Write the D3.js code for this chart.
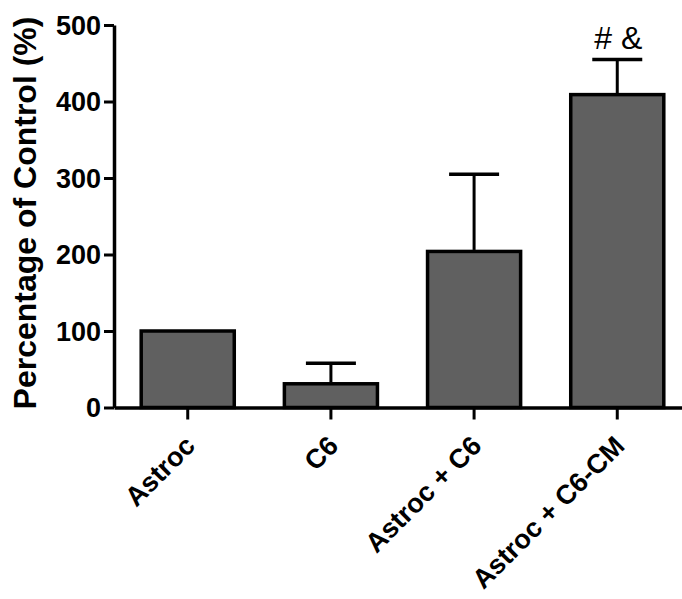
<!DOCTYPE html>
<html lang="en">
<head>
<meta charset="UTF-8" />
<title>Percentage of Control</title>
<script src="https://cdn.jsdelivr.net/npm/d3@7"></script>
<style>
  body { margin: 0; background: #fff; }
  text { font-family: Arial, "Liberation Sans", sans-serif; }
</style>
</head>
<body>
<div id="chart"></div>
<script>
// data
const groups = ["Astroc", "C6", "Astroc + C6", "Astroc + C6-CM"];
const means = [100, 31, 204, 409];
const errors = [0, 27, 101, 46];
const marks = ["", "", "", "# &"];
const yTicks = [0, 100, 200, 300, 400, 500];

const width = 682, height = 599;

const svg = d3.select("#chart")
  .append("svg")
  .attr("width", width)
  .attr("height", height);

const x = d3.scaleBand()
  .domain(groups)
  .range([114, 691])
  .paddingInner(0.35)
  .paddingOuter(0.19);

const y = d3.scaleLinear()
  .domain([0, 500])
  .range([407.5, 25]);

// bars
svg.selectAll("rect.bar")
  .data(groups)
  .enter().append("rect")
  .attr("class", "bar")
  .attr("x", d => x(d))
  .attr("y", (d, i) => y(means[i]))
  .attr("width", x.bandwidth())
  .attr("height", (d, i) => y(0) - y(means[i]))
  .attr("fill", "#606060")
  .attr("stroke", "#000")
  .attr("stroke-width", 3.5);

// error bars (upper only)
const capW = 50;
groups.forEach((g, i) => {
  if (!errors[i]) return;
  const cx = x(g) + x.bandwidth() / 2;
  svg.append("line")
    .attr("x1", cx).attr("x2", cx)
    .attr("y1", y(means[i]) - 1.5)
    .attr("y2", y(means[i] + errors[i]))
    .attr("stroke", "#000").attr("stroke-width", 3);
  svg.append("line")
    .attr("x1", cx - capW / 2).attr("x2", cx + capW / 2)
    .attr("y1", y(means[i] + errors[i]))
    .attr("y2", y(means[i] + errors[i]))
    .attr("stroke", "#000").attr("stroke-width", 3.5);
  if (marks[i]) {
    svg.append("text")
      .attr("x", cx + 1)
      .attr("y", y(means[i] + errors[i]) - 10)
      .attr("text-anchor", "middle")
      .attr("font-size", 32)
      .text(marks[i]);
  }
});

// y axis
const yAxis = svg.append("g")
  .attr("transform", "translate(114,0)")
  .call(d3.axisLeft(y).tickValues(yTicks).tickSize(10).tickSizeOuter(0).tickPadding(3));
yAxis.select(".domain").attr("stroke-width", 3.5);
yAxis.selectAll(".tick line").attr("stroke-width", 3);
yAxis.selectAll(".tick text")
  .attr("font-size", 27)
  .attr("font-weight", "bold")
  .attr("fill", "#000")
  .attr("dy", "0.35em");

// x axis
const xAxis = svg.append("g")
  .attr("transform", "translate(0,407.5)")
  .call(d3.axisBottom(x).tickSize(12).tickSizeOuter(0));
xAxis.select(".domain").attr("stroke-width", 3.5);
xAxis.selectAll(".tick line").attr("stroke-width", 3);
xAxis.selectAll(".tick text")
  .attr("font-size", 27)
  .attr("font-weight", "bold")
  .attr("fill", "#000")
  .attr("text-anchor", "end")
  .attr("x", 0)
  .attr("y", 0)
  .attr("dy", 0)
  .attr("transform", "translate(9,40) rotate(-45)");

// y label
svg.append("text")
  .attr("transform", "translate(36,213) rotate(-90)")
  .attr("text-anchor", "middle")
  .attr("font-size", 32)
  .attr("font-weight", "bold")
  .text("Percentage of Control (%)");
</script>
</body>
</html>
